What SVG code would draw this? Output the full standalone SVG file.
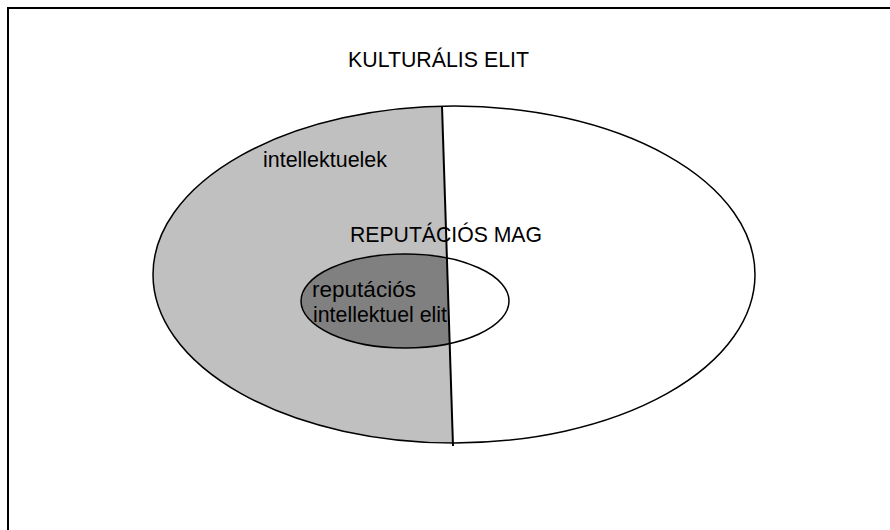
<svg xmlns="http://www.w3.org/2000/svg" width="890" height="530" viewBox="0 0 890 530">
  <style>
    .lbl { font-family: "Liberation Sans", Arial, sans-serif; font-size: 22px; fill: #000; }
    .edge { fill: none; stroke: #000; stroke-width: 1.5; }
  </style>
  <defs>
    <clipPath id="leftSide">
      <polygon points="0,0 438.6,0 455.7,530 0,530"/>
    </clipPath>
  </defs>
  <rect width="890" height="530" fill="#ffffff"/>
  <rect id="frame" x="8" y="8" width="900" height="540" fill="none" stroke="#000" stroke-width="2"/>
  <g id="kulturalis-elit">
    <ellipse cx="454" cy="274.5" rx="301" ry="168.5" fill="#ffffff"/>
    <ellipse cx="454" cy="274.5" rx="301" ry="168.5" fill="#c0c0c0" clip-path="url(#leftSide)"/>
    <ellipse class="edge" cx="454" cy="274.5" rx="301" ry="168.5"/>
    <text class="lbl" x="348" y="67" textLength="181" lengthAdjust="spacingAndGlyphs">KULTURÁLIS ELIT</text>
    <text class="lbl" x="263" y="167" textLength="124" lengthAdjust="spacingAndGlyphs">intellektuelek</text>
  </g>
  <g id="reputacios-mag">
    <ellipse cx="405" cy="301" rx="104" ry="47" fill="#ffffff"/>
    <ellipse cx="405" cy="301" rx="104" ry="47" fill="#808080" clip-path="url(#leftSide)"/>
    <ellipse class="edge" cx="405" cy="301" rx="104" ry="47"/>
    <text class="lbl" x="350" y="242" textLength="192" lengthAdjust="spacingAndGlyphs">REPUTÁCIÓS MAG</text>
    <text class="lbl" x="312" y="297" textLength="104" lengthAdjust="spacingAndGlyphs">reputációs</text>
    <text class="lbl" x="313" y="322" textLength="134" lengthAdjust="spacingAndGlyphs">intellektuel elit</text>
  </g>
  <g id="connectors">
    <line x1="442" y1="106" x2="453" y2="446" stroke="#000" stroke-width="2"/>
  </g>
</svg>
